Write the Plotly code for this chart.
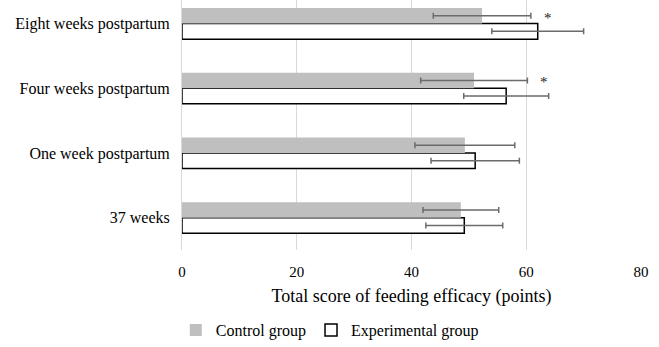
import plotly.graph_objects as go

categories = ["37 weeks", "One week postpartum", "Four weeks postpartum", "Eight weeks postpartum"]
control_mean = [48.6, 49.3, 50.9, 52.3]
control_sd = [6.6, 8.7, 9.3, 8.5]
exp_mean = [49.2, 51.1, 56.5, 62.0]
exp_sd = [6.7, 7.7, 7.4, 8.0]
significant = ["", "", "*", "*"]
x_ticks = [0, 20, 40, 60, 80]

FONT = "'Liberation Serif', 'Times New Roman', serif"

fig = go.Figure()
fig.add_trace(go.Bar(
    y=categories, x=exp_mean, orientation="h", name="Experimental group",
    marker=dict(color="white", line=dict(color="black", width=1.5)),
    error_x=dict(type="data", array=exp_sd, color="#6b6b6b", thickness=1.5, width=3),
    legendrank=2,
))
fig.add_trace(go.Bar(
    y=categories, x=control_mean, orientation="h", name="Control group",
    marker=dict(color="#bfbfbf", line=dict(width=0)),
    error_x=dict(type="data", array=control_sd, color="#6b6b6b", thickness=1.5, width=3),
    legendrank=1,
))

for cat, m, s, star in zip(categories, control_mean, control_sd, significant):
    if star:
        fig.add_annotation(x=m + s, y=cat, text=star, showarrow=False,
                           xanchor="left", xshift=11, yshift=6,
                           font=dict(family=FONT, size=15, color="#222"))

fig.update_layout(
    width=659, height=347,
    margin=dict(l=182, r=18, t=0, b=93),
    paper_bgcolor="white", plot_bgcolor="white",
    barmode="group", bargap=0.52, bargroupgap=0,
    font=dict(family=FONT, size=16, color="black"),
    legend=dict(orientation="h", x=0.322, xanchor="center", y=-0.32, yanchor="middle",
                font=dict(family=FONT, size=16), itemwidth=30, traceorder="normal"),
    showlegend=True,
)
fig.update_xaxes(range=[0, 80], tickvals=x_ticks, showgrid=True, gridcolor="#d9d9d9",
                 gridwidth=1, zeroline=False, showline=False,
                 tickfont=dict(family=FONT, size=15), ticks="outside", ticklen=8, tickcolor="rgba(0,0,0,0)",
                 title=dict(text="Total score of feeding efficacy (points)", standoff=10,
                            font=dict(family=FONT, size=18)))
fig.update_yaxes(categoryorder="array", categoryarray=categories, range=[-0.5, 3.365],
                 showgrid=False, showline=True, linecolor="#d9d9d9", linewidth=1,
                 ticks="outside", ticklen=8, tickcolor="rgba(0,0,0,0)",
                 tickfont=dict(family=FONT, size=16))

fig.write_html("out.html")
